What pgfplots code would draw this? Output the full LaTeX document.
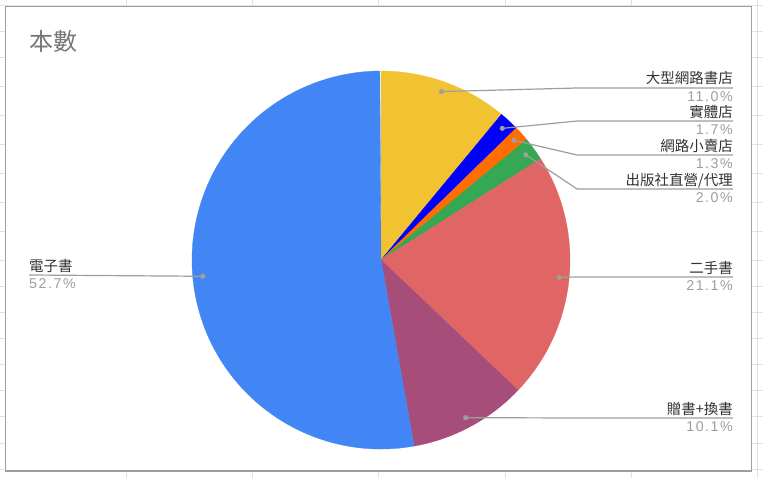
\documentclass[border=0pt]{standalone}
\usepackage{pgfplots}
\pgfplotsset{compat=1.18}
\usepackage{pgfplotstable}
\usepackage{fontspec}
\setmainfont{Noto Sans CJK TC}
\newfontfamily\pctfont[LetterSpace=11]{Liberation Sans}

\definecolor{cYel}{HTML}{F1C232}
\definecolor{cBlu}{HTML}{0000FF}
\definecolor{cOra}{HTML}{FF6D01}
\definecolor{cGrn}{HTML}{34A853}
\definecolor{cRed}{HTML}{E06666}
\definecolor{cPur}{HTML}{A64D79}
\definecolor{cSky}{HTML}{4285F4}
\definecolor{leader}{HTML}{9E9E9E}
\definecolor{labtxt}{HTML}{333333}
\definecolor{pcttxt}{HTML}{9E9E9E}
\definecolor{grid}{HTML}{E2E2E2}

% slices clockwise from 12 o'clock; liney = label line (px from top), side: 1 right, 0 left
\pgfplotstableread[col sep=comma]{
name,pct,col,liney,side
大型網路書店,11.0,cYel,88,1
實體店,1.7,cBlu,121,1
網路小賣店,1.3,cOra,155,1
出版社直營/代理,2.0,cGrn,189,1
二手書,21.1,cRed,277,1
贈書+換書,10.1,cPur,418,1
電子書,52.7,cSky,275,0
}\slices

\begin{document}
\begin{tikzpicture}
\begin{axis}[
    scale only axis, width=763bp, height=478bp,
    xmin=0, xmax=763, ymin=0, ymax=478, y dir=reverse,
    hide axis, enlargelimits=false,
    /pgf/number format/assume math mode=true,
]
\pgfplotsextra{
  % spreadsheet grid behind the chart
  \foreach \gx in {126,252,378,505,631,757}
    \draw[grid, line width=0.8bp] (axis cs:\gx,0) -- (axis cs:\gx,478);
  \foreach \gy in {5,31,57,86,115,144,173,202,231,260,286,312,338,364,390,416,443,469}
    \draw[grid, line width=0.8bp] (axis cs:0,\gy) -- (axis cs:763,\gy);
  \filldraw[fill=white, draw=leader, line width=1.3bp] (axis cs:5.5,6.5) rectangle (axis cs:751.5,471);
  \node[anchor=west, inner sep=0pt, text=black!54, font=\fontsize{24bp}{28bp}\selectfont]
    at (axis cs:29,41) {本數};
  \gdef\cum{0}
  \foreach \i in {0,...,6}{
    \pgfplotstablegetelem{\i}{pct}\of\slices \let\v\pgfplotsretval
    \pgfplotstablegetelem{\i}{col}\of\slices \let\c\pgfplotsretval
    \pgfmathsetmacro\a{90-3.6*\cum}
    \pgfmathsetmacro\b{90-3.6*(\cum+\v)}
    \filldraw[fill=\c, draw=\c, line width=0.3bp, line join=round]
      (axis cs:381,260) -- ++(\a:189bp) arc[start angle=\a, end angle=\b, radius=189bp] -- cycle;
    \pgfmathsetmacro\newcum{\cum+\v}
    \xdef\cum{\newcum}
  }
  \gdef\cum{0}
  \foreach \i in {0,...,6}{
    \pgfplotstablegetelem{\i}{pct}\of\slices \let\v\pgfplotsretval
    \pgfplotstablegetelem{\i}{name}\of\slices \let\n\pgfplotsretval
    \pgfplotstablegetelem{\i}{liney}\of\slices \let\ly\pgfplotsretval
    \pgfplotstablegetelem{\i}{side}\of\slices \let\s\pgfplotsretval
    \pgfmathsetmacro\m{90-3.6*(\cum+\v/2)}
    \pgfmathsetmacro\ta{\ly-4}
    \pgfmathsetmacro\tb{\ly+13.5}
    \ifnum\s=1
      \draw[leader, line width=1.2bp] (axis cs:381,260) ++(\m:179bp) -- (axis cs:577,\ly) -- (axis cs:733,\ly);
      \node[anchor=base east, inner sep=0pt, text=labtxt, font=\fontsize{14.5bp}{17bp}\selectfont]
        at (axis cs:733,\ta) {\n};
      \node[anchor=base east, inner sep=0pt, text=pcttxt, font=\fontsize{14.2bp}{17bp}\pctfont]
        at (axis cs:733,\tb) {\pgfmathprintnumber[fixed, fixed zerofill, precision=1]{\v}\%};
    \else
      \draw[leader, line width=1.2bp] (axis cs:381,260) ++(\m:179bp) -- (axis cs:29,\ly);
      \node[anchor=base west, inner sep=0pt, text=labtxt, font=\fontsize{14.5bp}{17bp}\selectfont]
        at (axis cs:29,\ta) {\n};
      \node[anchor=base west, inner sep=0pt, text=pcttxt, font=\fontsize{14.2bp}{17bp}\pctfont]
        at (axis cs:29,\tb) {\pgfmathprintnumber[fixed, fixed zerofill, precision=1]{\v}\%};
    \fi
    \fill[leader] (axis cs:381,260) ++(\m:179bp) circle[radius=2.6bp];
    \pgfmathsetmacro\newcum{\cum+\v}
    \xdef\cum{\newcum}
  }
}
\end{axis}
\end{tikzpicture}
\end{document}
